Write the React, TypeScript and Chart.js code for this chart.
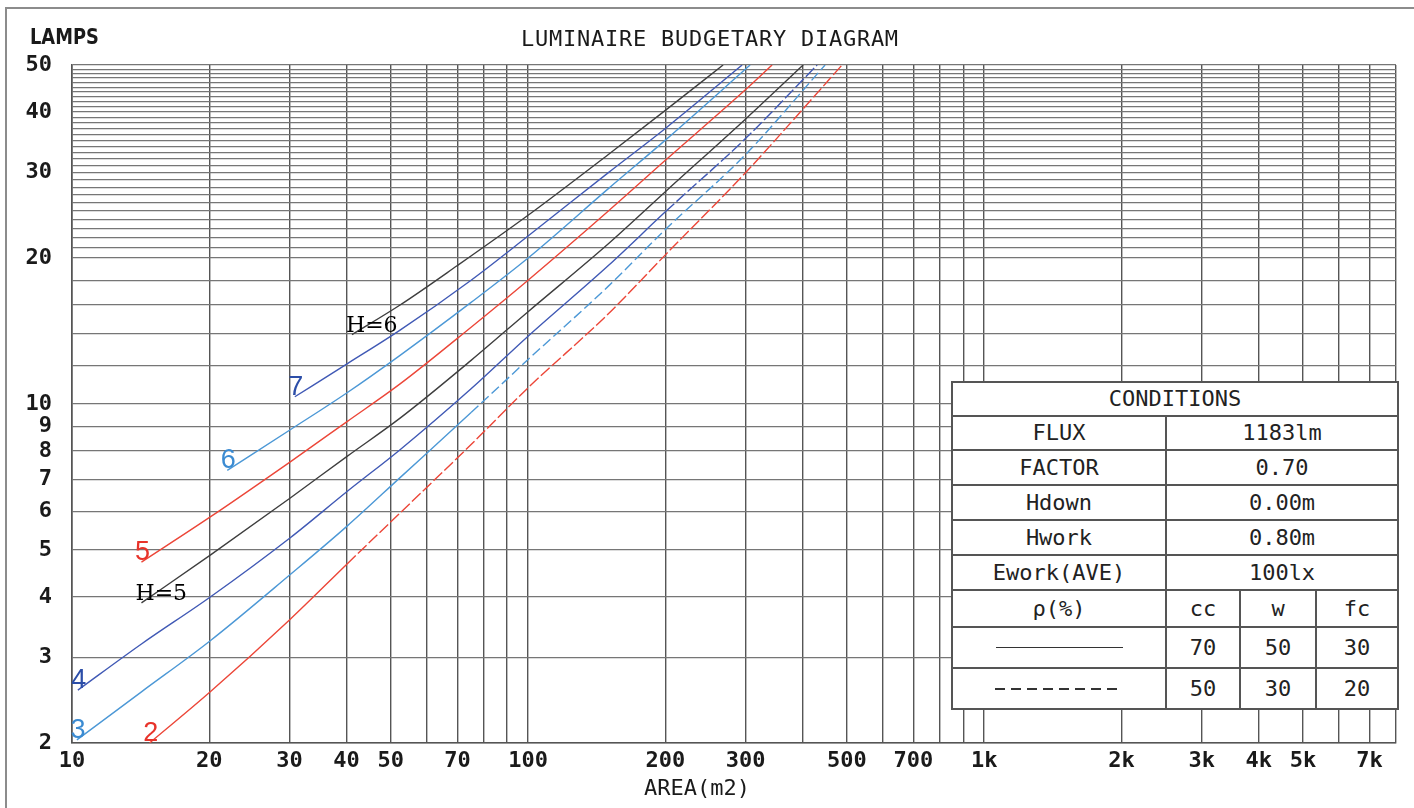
import React, { useEffect, useRef } from "react";
import { Chart, registerables } from "chart.js";

Chart.register(...registerables);

// ---- axes ----
const areaMin = 10;
const areaMax = 8000;
const areaGrid = [10, 20, 30, 40, 50, 60, 70, 80, 90, 100, 200, 300, 400, 500, 600, 700, 800, 900, 1000, 2000, 3000, 4000, 5000, 6000, 7000, 8000];
const areaTickValues = [10, 20, 30, 40, 50, 70, 100, 200, 300, 500, 700, 1000, 2000, 3000, 4000, 5000, 7000];
const areaTickLabels = ["10", "20", "30", "40", "50", "70", "100", "200", "300", "500", "700", "1k", "2k", "3k", "4k", "5k", "7k"];

const lampsMin = 2;
const lampsMax = 50;
const lampsGrid = [2, 3, 4, 5, 6, 7, 8, 9, 10, 12, 14, 16, 18, 20, 21, 22, 23, 24, 25, 26, 27, 28, 29, 30, 31, 32, 33, 34, 35, 36, 37, 38, 39, 40, 41, 42, 43, 44, 45, 46, 47, 48, 49, 50];
const lampsTickValues = [2, 3, 4, 5, 6, 7, 8, 9, 10, 20, 30, 40, 50];

// ---- curves: [area m2, lamps] ----
const curveH6: [number, number][] = [[41.1, 13.9], [52.4, 16.0], [70, 19.3], [100, 24.5], [150, 32.7], [200, 40.3], [267.7, 50]];
const curve7: [number, number][] = [[30.8, 10.35], [40.1, 12.1], [52.4, 14.2], [75, 18.0], [100, 22.2], [150, 30.0], [200, 37.0], [294.7, 50]];
const curve6: [number, number][] = [[21.9, 7.3], [30.1, 8.85], [40.1, 10.55], [52.4, 12.6], [75, 16.2], [100, 20.0], [150, 27.8], [200, 35.0], [306.8, 50]];
const curve5: [number, number][] = [[14.2, 4.72], [20.1, 5.85], [30.1, 7.6], [40.1, 9.2], [52.4, 11.0], [75, 14.4], [100, 18.0], [150, 25.0], [200, 31.8], [300, 44.5], [342.8, 50]];
const curveH5: [number, number][] = [[14.2, 3.89], [20.1, 4.88], [30.1, 6.4], [40.1, 7.8], [52.4, 9.35], [75, 12.3], [100, 15.5], [150, 21.4], [200, 27.4], [300, 38.7], [401, 50]];
const curve4: [number, number][] = [[10.3, 2.57], [14.2, 3.2], [20.1, 4.0], [30.1, 5.3], [40.1, 6.6], [52.4, 8.05], [75, 10.75], [100, 13.8], [150, 19.3], [200, 24.9], [300, 35.3], [430.3, 50]];
const curve3: [number, number][] = [[10.25, 2.03], [14.2, 2.55], [20.1, 3.25], [30.1, 4.45], [40.1, 5.6], [52.4, 7.05], [75, 9.6], [100, 12.35], [150, 17.5], [200, 22.9], [300, 32.7], [448, 50]];
const curve2: [number, number][] = [[14.8, 2.0], [20.1, 2.55], [30.1, 3.6], [40.1, 4.68], [52.4, 5.96], [75, 8.25], [100, 10.8], [150, 15.35], [200, 20.3], [300, 30.0], [400, 40.5], [488, 50]];

const curveNames = ["H=6", "7", "6", "5", "H=5", "4", "3", "2"];

// ---- styles ----
const BLACK = "#3e3e3e";
const DARK_BLUE = "#4059b5";
const LIGHT_BLUE = "#4c98d6";
const RED = "#ec4638";

const curves = [
  { name: curveNames[0], points: curveH6, color: BLACK, text: "#000000", kind: "h", dashFrom: Infinity, dash: [] as number[] },
  { name: curveNames[1], points: curve7, color: DARK_BLUE, text: "#2c4ea8", kind: "n", dashFrom: Infinity, dash: [] as number[] },
  { name: curveNames[2], points: curve6, color: LIGHT_BLUE, text: "#3b8bd2", kind: "n", dashFrom: Infinity, dash: [] as number[] },
  { name: curveNames[3], points: curve5, color: RED, text: "#e8332a", kind: "n", dashFrom: Infinity, dash: [] as number[] },
  { name: curveNames[4], points: curveH5, color: BLACK, text: "#000000", kind: "h", dashFrom: Infinity, dash: [] as number[] },
  { name: curveNames[5], points: curve4, color: DARK_BLUE, text: "#2c4ea8", kind: "n", dashFrom: 199, dash: [12, 3] },
  { name: curveNames[6], points: curve3, color: LIGHT_BLUE, text: "#3b8bd2", kind: "n", dashFrom: 74, dash: [10, 4] },
  { name: curveNames[7], points: curve2, color: RED, text: "#e8332a", kind: "n", dashFrom: 40, dash: [12, 3] },
];

const MONO = '"DejaVu Sans Mono", monospace';

function labelFor(values: number[], labels: string[] | null, v: number): string {
  const i = values.findIndex((t) => Math.abs(t - v) < 1e-6 * t);
  if (i < 0) return "";
  return labels ? labels[i] : String(values[i]);
}

const curveLabelPlugin = {
  id: "curveLabels",
  afterDatasetsDraw(chart: any) {
    const ctx = chart.ctx;
    chart.data.datasets.forEach((ds: any, i: number) => {
      const meta = chart.getDatasetMeta(i);
      const pt = meta.data[0];
      if (!pt) return;
      const c = curves[i];
      ctx.save();
      ctx.fillStyle = c.text;
      ctx.textBaseline = "alphabetic";
      if (c.kind === "h") {
        ctx.font = '22px "DejaVu Serif", serif';
        ctx.textAlign = "left";
        ctx.fillText(c.name, pt.x - 6, pt.y - 3);
      } else {
        ctx.font = '27px "Liberation Sans", sans-serif';
        ctx.textAlign = "center";
        ctx.fillText(c.name, pt.x + 1, pt.y - 2);
      }
      ctx.restore();
    });
  },
};

const cell: React.CSSProperties = {
  border: "2px solid #555",
  textAlign: "center",
  verticalAlign: "middle",
  padding: 0,
  lineHeight: "1",
  whiteSpace: "nowrap",
};

export default function App() {
  const canvasRef = useRef<HTMLCanvasElement>(null);

  useEffect(() => {
    document.body.style.margin = "0";
    const canvas = canvasRef.current;
    if (!canvas) return;
    const chart = new Chart(canvas, {
      type: "line",
      data: {
        datasets: curves.map((c) => ({
          label: c.name,
          data: c.points.map(([x, y]) => ({ x, y })),
          borderColor: c.color,
          borderWidth: 1.4,
          pointRadius: 0,
          cubicInterpolationMode: "monotone",
          fill: false,
          segment: {
            borderDash: (s: any) => (s.p0.parsed.x >= c.dashFrom ? c.dash : undefined),
          },
        })),
      },
      options: {
        animation: false,
        responsive: true,
        maintainAspectRatio: false,
        events: [],
        layout: { padding: { top: 65, right: 18, bottom: 0, left: 0 } },
        plugins: {
          legend: { display: false },
          tooltip: { enabled: false },
          title: { display: false },
        },
        scales: {
          x: {
            type: "logarithmic",
            min: areaMin,
            max: areaMax,
            afterFit: (s: any) => {
              s.height = 65;
            },
            afterBuildTicks: (s: any) => {
              s.ticks = areaGrid.map((v) => ({ value: v }));
            },
            grid: { color: "#555555", lineWidth: 1.4, drawTicks: false },
            border: { display: true, color: "#555", width: 1.6 },
            ticks: {
              autoSkip: false,
              maxRotation: 0,
              minRotation: 0,
              padding: 5,
              color: "#1a1a1a",
              font: { family: MONO, size: 22, weight: "bold" },
              callback: (v: any) => labelFor(areaTickValues, areaTickLabels, Number(v)),
            },
          },
          y: {
            type: "logarithmic",
            min: lampsMin,
            max: lampsMax,
            afterFit: (s: any) => {
              s.width = 72;
            },
            afterBuildTicks: (s: any) => {
              s.ticks = lampsGrid.map((v) => ({ value: v }));
            },
            grid: { color: "#767676", lineWidth: 1.2, drawTicks: false },
            border: { display: true, color: "#555", width: 1.6 },
            ticks: {
              autoSkip: false,
              padding: 20,
              color: "#1a1a1a",
              font: { family: MONO, size: 22, weight: "bold" },
              callback: (v: any) => labelFor(lampsTickValues, null, Number(v)),
            },
          },
        },
      } as any,
      plugins: [curveLabelPlugin],
    });
    return () => chart.destroy();
  }, []);

  return (
    <div style={{ position: "relative", width: 1414, height: 808, overflow: "hidden", background: "#ffffff" }}>
      <div
        style={{
          position: "absolute",
          left: 5,
          top: 7,
          right: -20,
          bottom: -20,
          borderLeft: "2px solid #8c8c8c",
          borderTop: "2px solid #8c8c8c",
        }}
      />
      <canvas ref={canvasRef} style={{ position: "absolute", left: 0, top: 0 }} />
      <div
        style={{
          position: "absolute",
          left: 30,
          top: 25,
          font: 'bold 21px "DejaVu Sans", sans-serif',
          lineHeight: "24px",
          color: "#1a1a1a",
          whiteSpace: "nowrap",
          transform: "scaleX(0.85)",
          transformOrigin: "left center",
        }}
      >
        LAMPS
      </div>
      <div
        style={{
          position: "absolute",
          left: 521,
          top: 26,
          font: `22px ${MONO}`,
          letterSpacing: "0.75px",
          lineHeight: "26px",
          color: "#1a1a1a",
          whiteSpace: "nowrap",
        }}
      >
        LUMINAIRE BUDGETARY DIAGRAM
      </div>
      <div
        style={{
          position: "absolute",
          left: 644,
          top: 775,
          font: `22px ${MONO}`,
          lineHeight: "26px",
          color: "#1a1a1a",
          whiteSpace: "nowrap",
        }}
      >
        AREA(m2)
      </div>
      <div style={{ position: "absolute", left: 951, top: 381, width: 446, height: 328, background: "#ffffff" }}>
        <table
          style={{
            borderCollapse: "collapse",
            tableLayout: "fixed",
            width: 446,
            height: 328,
            font: `22px ${MONO}`,
            color: "#222",
            background: "#ffffff",
          }}
        >
          <colgroup>
            <col style={{ width: 214 }} />
            <col style={{ width: 74 }} />
            <col style={{ width: 76 }} />
            <col style={{ width: 82 }} />
          </colgroup>
          <tbody>
            <tr style={{ height: 34 }}>
              <td style={cell} colSpan={4}>CONDITIONS</td>
            </tr>
            <tr style={{ height: 34 }}>
              <td style={cell}>FLUX</td>
              <td style={cell} colSpan={3}>1183lm</td>
            </tr>
            <tr style={{ height: 35 }}>
              <td style={cell}>FACTOR</td>
              <td style={cell} colSpan={3}>0.70</td>
            </tr>
            <tr style={{ height: 35 }}>
              <td style={cell}>Hdown</td>
              <td style={cell} colSpan={3}>0.00m</td>
            </tr>
            <tr style={{ height: 35 }}>
              <td style={cell}>Hwork</td>
              <td style={cell} colSpan={3}>0.80m</td>
            </tr>
            <tr style={{ height: 35 }}>
              <td style={cell}>Ework(AVE)</td>
              <td style={cell} colSpan={3}>100lx</td>
            </tr>
            <tr style={{ height: 37 }}>
              <td style={cell}>ρ(%)</td>
              <td style={cell}>cc</td>
              <td style={cell}>w</td>
              <td style={cell}>fc</td>
            </tr>
            <tr style={{ height: 41 }}>
              <td style={cell}>
                <div style={{ width: 127, height: 0, borderTop: "1.5px solid #333", margin: "0 auto" }} />
              </td>
              <td style={cell}>70</td>
              <td style={cell}>50</td>
              <td style={cell}>30</td>
            </tr>
            <tr style={{ height: 41 }}>
              <td style={cell}>
                <div
                  style={{
                    width: 128,
                    height: 2,
                    margin: "0 auto",
                    background: "repeating-linear-gradient(to right, #333 0px, #333 10px, transparent 10px, transparent 16px)",
                  }}
                />
              </td>
              <td style={cell}>50</td>
              <td style={cell}>30</td>
              <td style={cell}>20</td>
            </tr>
          </tbody>
        </table>
      </div>
    </div>
  );
}
